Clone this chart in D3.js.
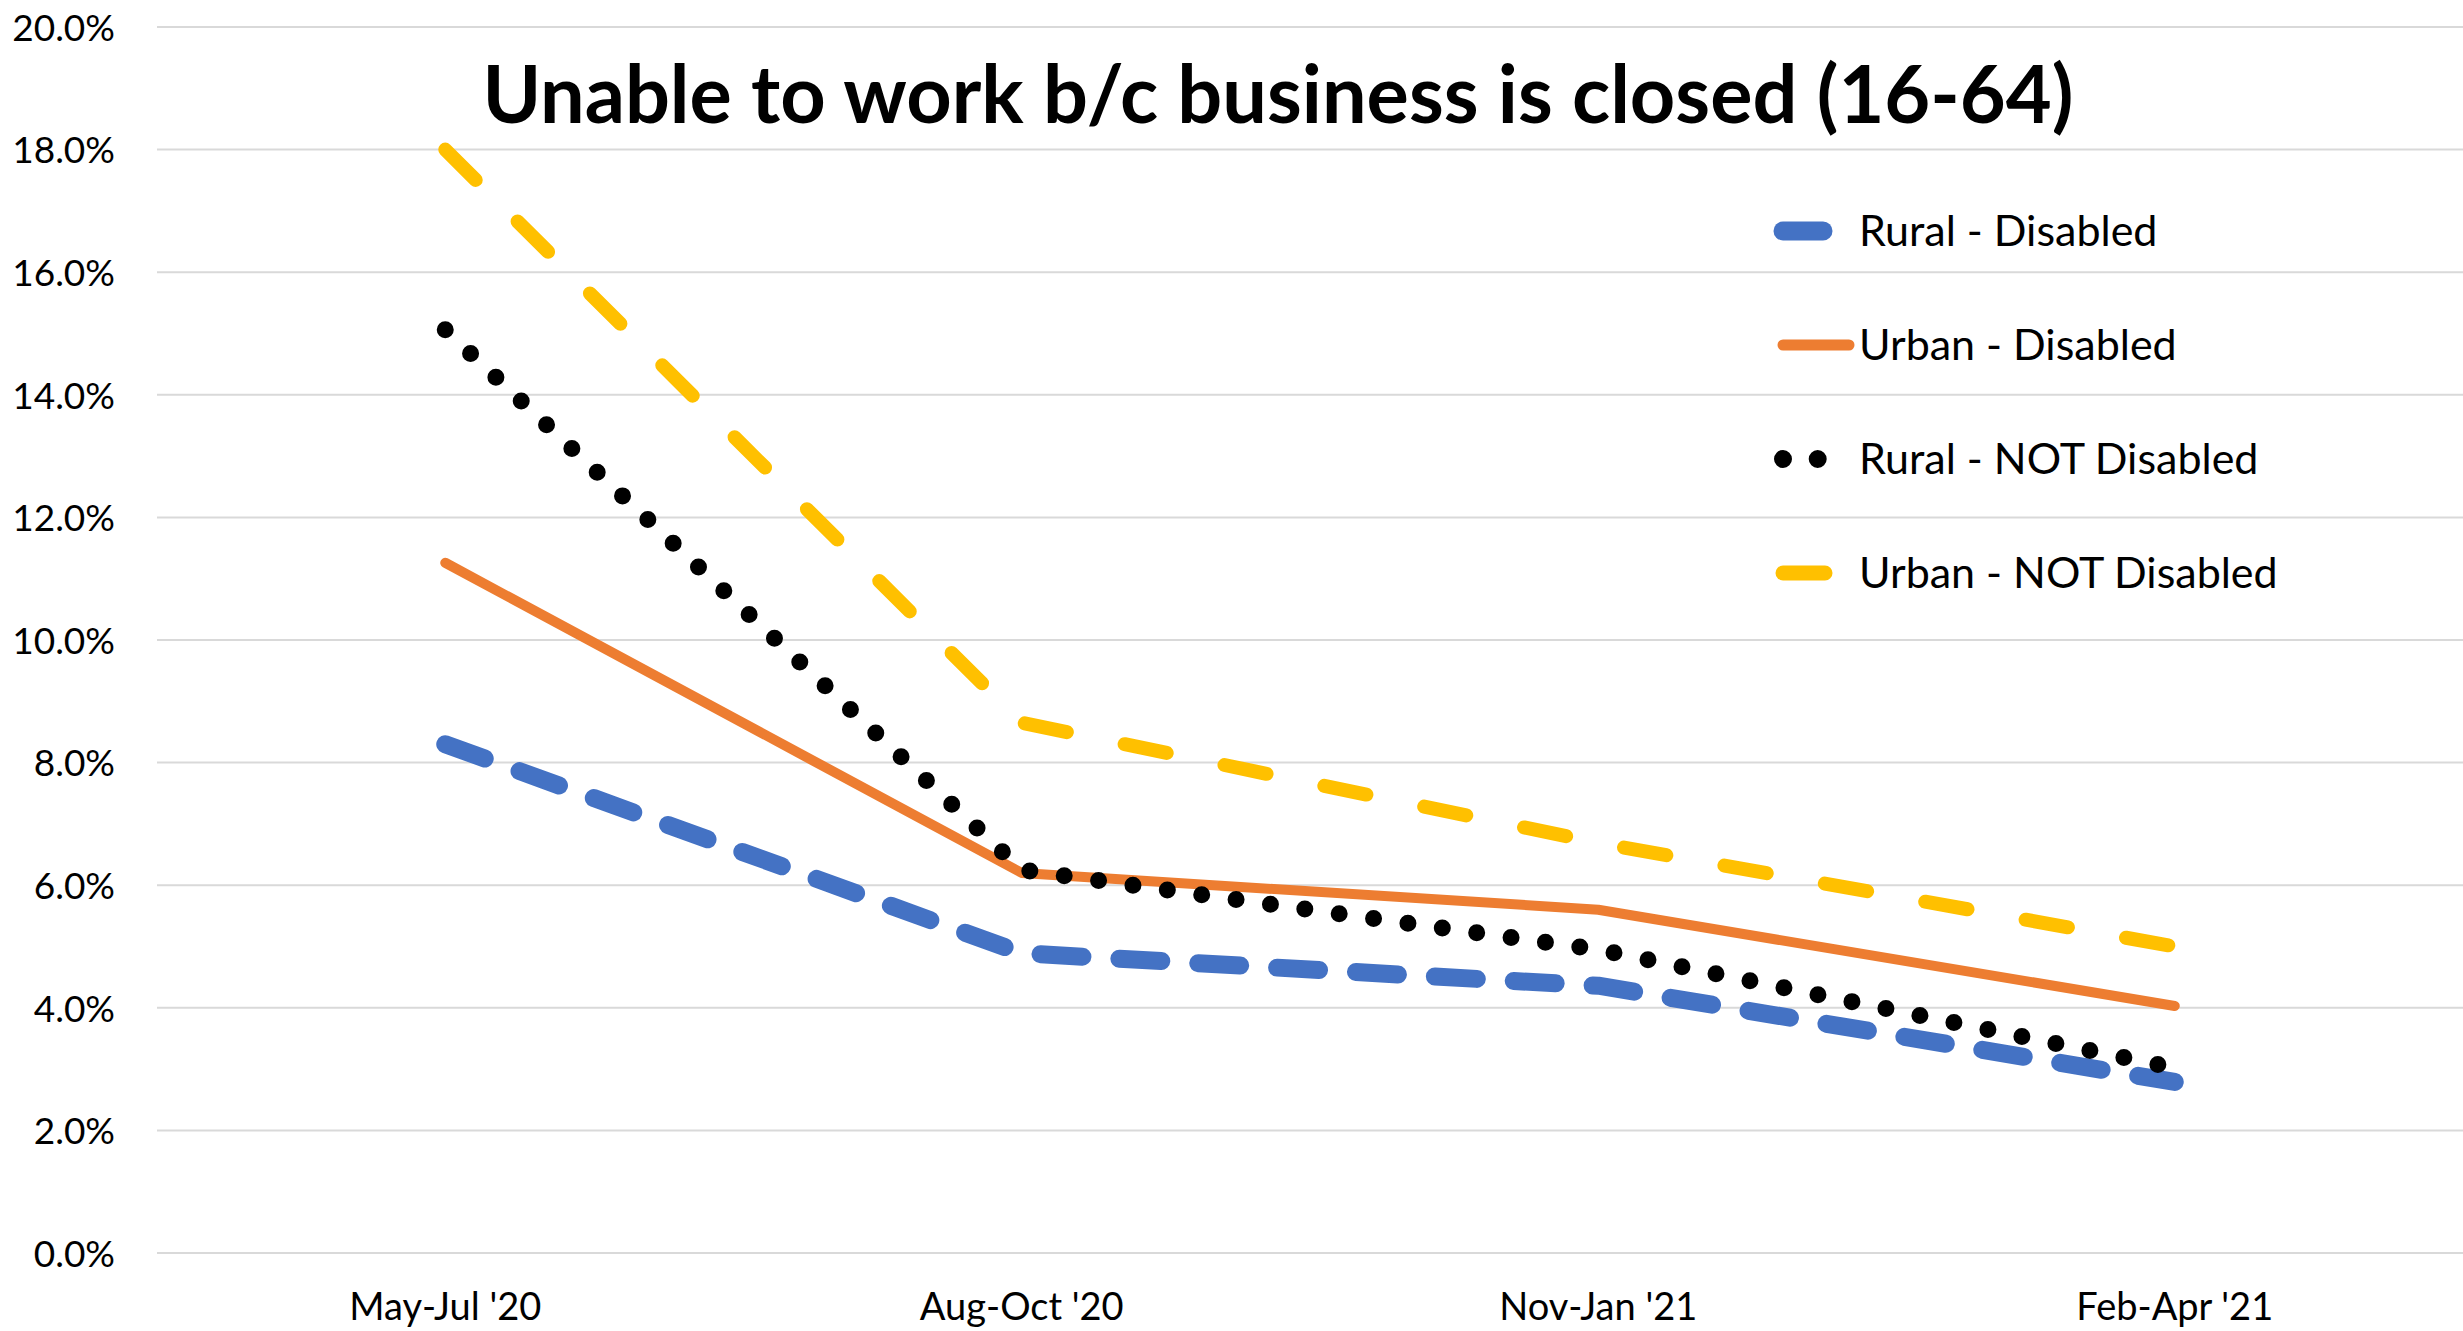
<!DOCTYPE html>
<html>
<head>
<meta charset="utf-8">
<script src="https://cdn.jsdelivr.net/npm/d3@7"></script>
<style>
  html, body { margin: 0; padding: 0; background: #ffffff; }
  svg { display: block; font-family: Lato, "Open Sans", sans-serif; }
</style>
</head>
<body>
<div id="chart"></div>
<script>
const width = 2463;
const height = 1331;
const margin = { top: 27, right: 0, bottom: 78, left: 157 };

const categories = ["May-Jul '20", "Aug-Oct '20", "Nov-Jan '21", "Feb-Apr '21"];
const yTicks = [0, 0.02, 0.04, 0.06, 0.08, 0.1, 0.12, 0.14, 0.16, 0.18, 0.2];

const ruralDisabled = [0.083, 0.0489, 0.0436, 0.0279];
const urbanDisabled = [0.1126, 0.062, 0.056, 0.0403];
const ruralNotDisabled = [0.1506, 0.0625, 0.0495, 0.0302];
const urbanNotDisabled = [0.18, 0.0865, 0.0669, 0.05];

const series = [
  { label: "Rural - Disabled", values: ruralDisabled, color: "#4472c4", width: 18, dash: "42,37", legendLen: 40 },
  { label: "Urban - Disabled", values: urbanDisabled, color: "#ed7d31", width: 10, dash: null, legendLen: 66 },
  { label: "Rural - NOT Disabled", values: ruralNotDisabled, color: "#000000", width: 17, dash: "0,34.7", legendLen: 36 },
  { label: "Urban - NOT Disabled", values: urbanNotDisabled, color: "#ffc000", width: 14, dash: "43,59", legendLen: 42 },
];

const svg = d3.select("#chart")
  .append("svg")
  .attr("width", width)
  .attr("height", height)
  .attr("viewBox", `0 0 ${width} ${height}`);

svg.append("rect").attr("width", width).attr("height", height).attr("fill", "#ffffff");

const x = d3.scaleBand()
  .domain(categories)
  .range([margin.left, width - margin.right]);

const y = d3.scaleLinear()
  .domain([0, 0.2])
  .range([height - margin.bottom, margin.top]);

const cx = (i) => x(categories[i]) + x.bandwidth() / 2;

// gridlines
svg.append("g")
  .selectAll("line")
  .data(yTicks)
  .join("line")
  .attr("x1", margin.left)
  .attr("x2", width - margin.right)
  .attr("y1", (d) => y(d))
  .attr("y2", (d) => y(d))
  .attr("stroke", "#d9d9d9")
  .attr("stroke-width", 2);

// y axis labels
const yAxis = svg.append("g")
  .attr("transform", `translate(115,0)`)
  .call(d3.axisLeft(y).tickValues(yTicks).tickFormat(d3.format(".1%")).tickSize(0).tickPadding(0));
yAxis.select(".domain").remove();
yAxis.selectAll("text")
  .attr("font-family", "Lato, sans-serif")
  .attr("font-size", 37)
  .attr("fill", "#000000")
  .attr("dy", "0.36em");

// x axis labels
const xAxis = svg.append("g")
  .attr("transform", `translate(0,1320)`)
  .call(d3.axisBottom(x).tickSize(0).tickPadding(0));
xAxis.select(".domain").remove();
xAxis.selectAll("text")
  .attr("font-family", "Lato, sans-serif")
  .attr("font-size", 38)
  .attr("fill", "#000000")
  .attr("y", 0)
  .attr("dy", 0);

// title
svg.append("text")
  .attr("x", 1278)
  .attr("y", 123)
  .attr("text-anchor", "middle")
  .attr("font-family", "Lato, sans-serif")
  .attr("font-weight", 700)
  .attr("font-size", 80)
  .attr("fill", "#000000")
  .attr("textLength", 1591)
  .attr("lengthAdjust", "spacingAndGlyphs")
  .text("Unable to work b/c business is closed (16-64)");

// lines
const line = d3.line()
  .x((d, i) => cx(i))
  .y((d) => y(d));

series.forEach((s) => {
  svg.append("path")
    .datum(s.values)
    .attr("fill", "none")
    .attr("stroke", s.color)
    .attr("stroke-width", s.width)
    .attr("stroke-linecap", "round")
    .attr("stroke-linejoin", "round")
    .attr("stroke-dasharray", s.dash)
    .attr("d", line);
});

// legend
const legend = svg.append("g").attr("transform", "translate(1783,231)");
series.forEach((s, i) => {
  const g = legend.append("g").attr("transform", `translate(0,${i * 114})`);
  g.append("line")
    .attr("x1", 0)
    .attr("x2", s.legendLen)
    .attr("y1", 0)
    .attr("y2", 0)
    .attr("stroke", s.color)
    .attr("stroke-width", s.width + 1)
    .attr("stroke-linecap", "round")
    .attr("stroke-dasharray", s.dash);
  g.append("text")
    .attr("x", 76)
    .attr("y", 15)
    .attr("font-family", "Lato, sans-serif")
    .attr("font-size", 43)
    .attr("fill", "#000000")
    .text(s.label);
});
</script>
</body>
</html>
